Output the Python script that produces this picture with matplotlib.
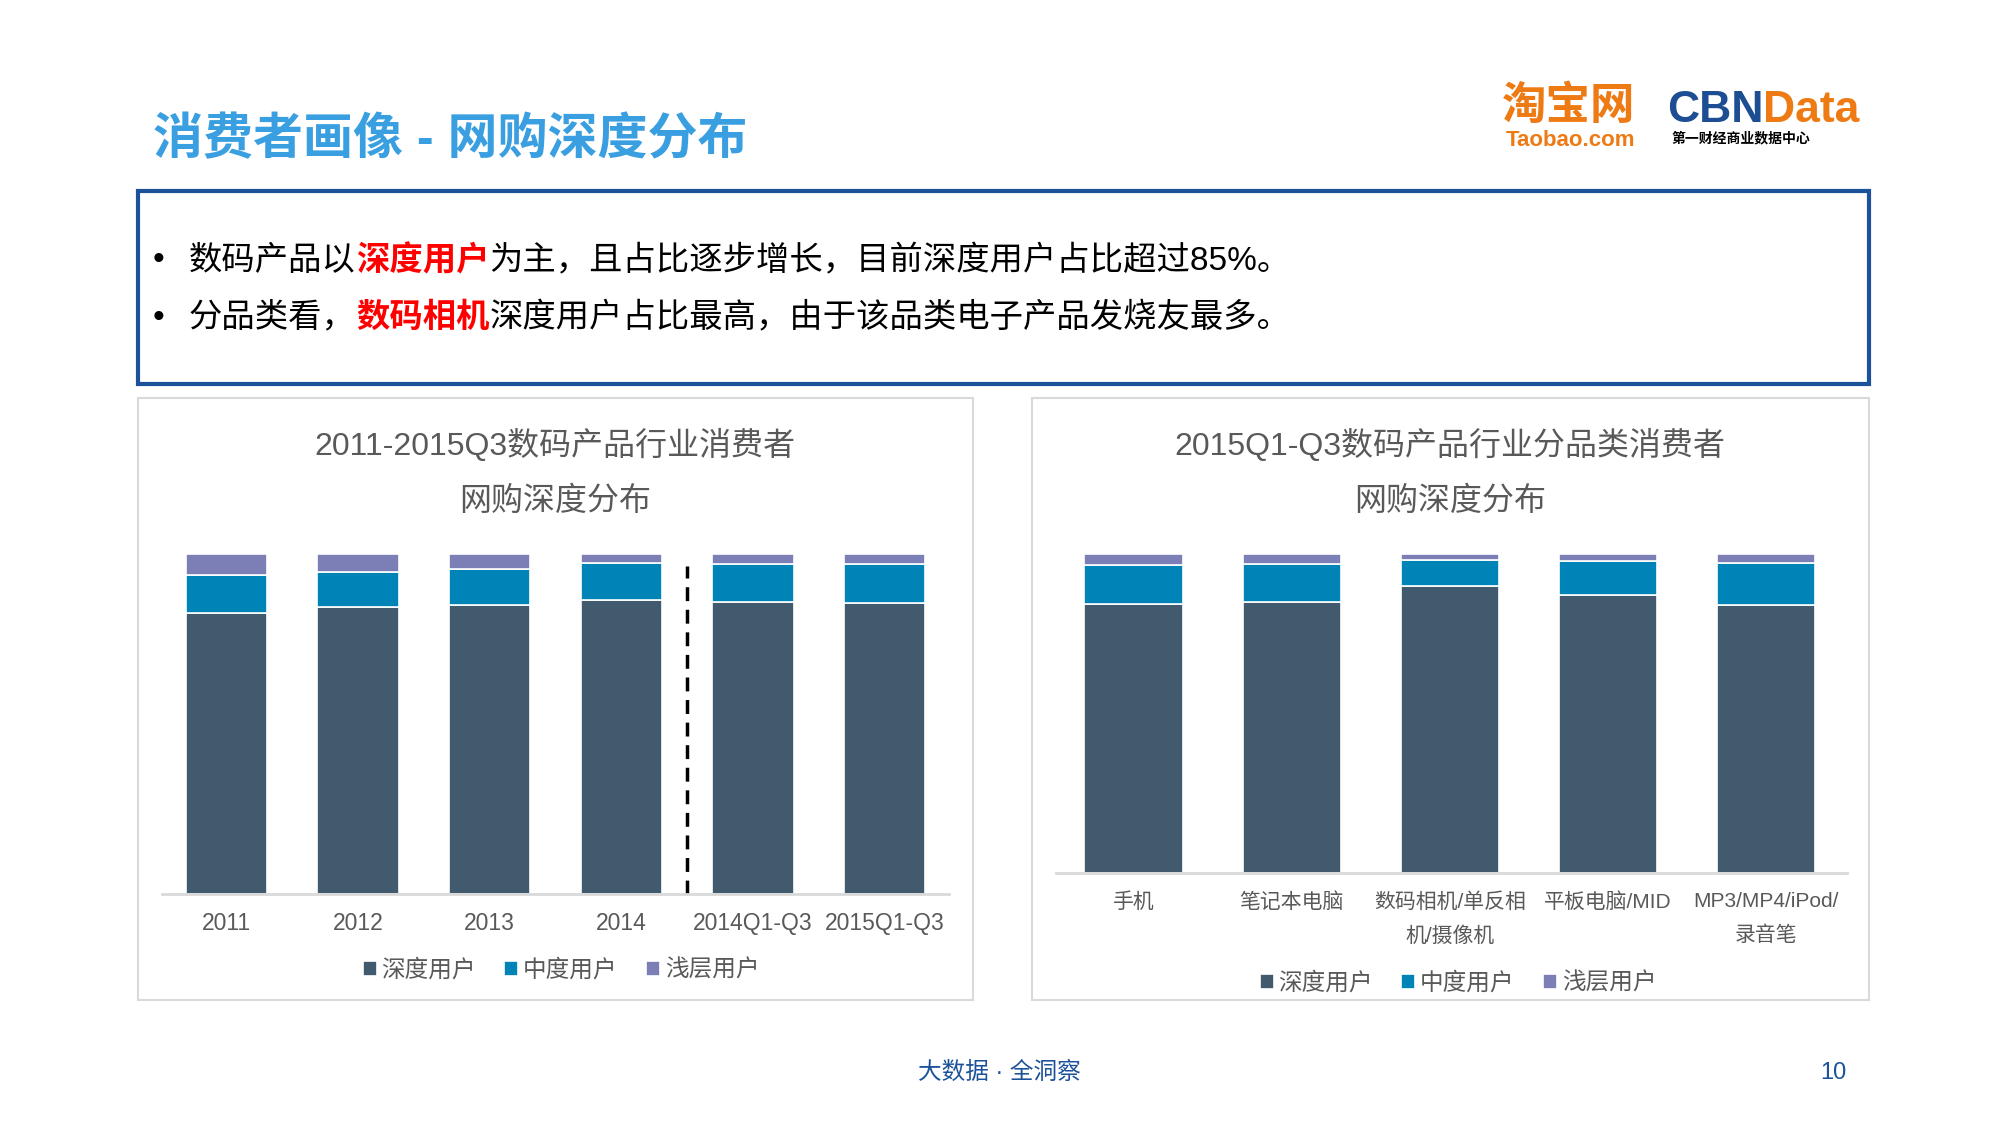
import matplotlib
matplotlib.use("Agg")
from matplotlib import pyplot as plt
from matplotlib.patches import Rectangle
import numpy as np

plt.rcParams['font.family'] = ['Liberation Sans', 'Noto Sans CJK SC', 'DejaVu Sans']

# data (percent of users)
years = ['2011', '2012', '2013', '2014', '2014Q1-Q3', '2015Q1-Q3']
deep_year = [82.7, 84.4, 85.0, 86.5, 85.9, 85.6]
mid_year = [11.1, 10.2, 10.6, 10.9, 11.2, 11.4]
light_year = [6.2, 5.4, 4.4, 2.6, 2.9, 3.0]

cats = ['手机', '笔记本电脑', '数码相机/单反相\n机/摄像机', '平板电脑/MID', 'MP3/MP4/iPod/\n录音笔']
deep_cat = [84.3, 85.0, 89.9, 87.1, 84.0]
mid_cat = [12.3, 11.8, 8.2, 10.7, 13.2]
light_cat = [3.4, 3.2, 1.9, 2.2, 2.8]

series_names = ['深度用户', '中度用户', '浅层用户']
colors = ['#415A6E', '#0084B8', '#7B7FB5']
gray = '#595959'

W, H = 2000, 1125
fig = plt.figure(figsize=(20, 11.25), dpi=100)

def fx(x): return x / W
def fy(y): return 1 - y / H

# page title + logos
fig.text(fx(153), fy(140), '消费者画像 - 网购深度分布', fontsize=36, fontweight='bold',
         color='#3A9FE0', va='center', ha='left')
fig.text(fx(1569), fy(107), '淘宝网', fontsize=32, fontweight='bold', color='#EE7A14',
         ha='center', va='center')
fig.text(fx(1571), fy(141), 'Taobao.com', fontsize=16, fontweight='bold', color='#EE7A14',
         ha='center', va='center')
t = fig.text(fx(1667), fy(110), 'CBN', fontsize=32, fontweight='bold', color='#1D4E93',
             ha='left', va='center')
fig.canvas.draw()
r = fig.canvas.get_renderer()
bb = t.get_window_extent(r)
fig.text(bb.x1 / W, fy(110), 'Data', fontsize=32, fontweight='bold', color='#EE7A14',
         ha='left', va='center')
fig.text(fx(1671), fy(138), '第一财经商业数据中心', fontsize=10, fontweight='bold', color='black',
         ha='left', va='center')

# summary box
fig.patches.append(Rectangle((fx(138), fy(384)), fx(1869 - 138), (384 - 191) / H,
                             transform=fig.transFigure, fill=False, edgecolor='#1B5299', lw=3))

def draw_runs(x, y, runs, size=24):
    for txt, col, bold in runs:
        tt = fig.text(fx(x), fy(y), txt, fontsize=size, color=col,
                      fontweight='bold' if bold else 'normal', ha='left', va='center')
        x = tt.get_window_extent(r).x1
    return x

for yy, runs in [(261, [('数码产品以', 'black', False), ('深度用户', '#FF0000', True),
                        ('为主，且占比逐步增长，目前深度用户占比超过85%。', 'black', False)]),
                 (318, [('分品类看，', 'black', False), ('数码相机', '#FF0000', True),
                        ('深度用户占比最高，由于该品类电子产品发烧友最多。', 'black', False)])]:
    fig.text(fx(159), fy(yy), '•', fontsize=24, color='black', ha='center', va='center')
    draw_runs(189, yy, runs)

# chart panels
for x0, x1 in [(138, 973), (1032, 1869)]:
    fig.patches.append(Rectangle((fx(x0), fy(1000)), fx(x1 - x0), (1000 - 398) / H,
                                 transform=fig.transFigure, fill=False, edgecolor='#D9D9D9', lw=1.5))

fig.text(fx(555), fy(445), '2011-2015Q3数码产品行业消费者', fontsize=23, color=gray, ha='center', va='center')
fig.text(fx(555), fy(502), '网购深度分布', fontsize=23, color=gray, ha='center', va='center')
fig.text(fx(1450), fy(445), '2015Q1-Q3数码产品行业分品类消费者', fontsize=23, color=gray, ha='center', va='center')
fig.text(fx(1450), fy(502), '网购深度分布', fontsize=23, color=gray, ha='center', va='center')

def stacked(ax, labels, deep, mid, light, width):
    x = np.arange(len(labels))
    bottom = np.zeros(len(labels))
    handles = []
    for vals, c, name in zip([deep, mid, light], colors, series_names):
        b = ax.bar(x, vals, width, bottom=bottom, color=c, edgecolor='white', linewidth=1.2, label=name)
        bottom += np.array(vals)
        handles.append(b)
    ax.set_ylim(0, 100)
    ax.set_yticks([])
    for s in ['left', 'right', 'top']:
        ax.spines[s].set_visible(False)
    ax.spines['bottom'].set_color('#D9D9D9')
    ax.spines['bottom'].set_linewidth(2)
    ax.set_xticks(x)
    return handles

# left chart
ax1 = fig.add_axes([fx(162), fy(894), fx(949 - 162), (894 - 554) / H])
h1 = stacked(ax1, years, deep_year, mid_year, light_year, 0.62)
ax1.set_xlim(-0.49, 5.49)
ax1.set_xticklabels(years, fontsize=16.5, color=gray)
ax1.tick_params(axis='x', length=0, pad=13)
ax1.plot([3.5, 3.5], [0, 96.6], color='black', lw=2.5, ls=(0, (4, 2.5)))
ax1.legend(handles=h1, loc='center', bbox_to_anchor=(fx(561), fy(970)), bbox_transform=fig.transFigure,
           ncol=3, frameon=False, fontsize=17, handlelength=0.6, handleheight=0.6,
           handletextpad=0.2, columnspacing=1.2, labelcolor=gray)

# right chart
ax2 = fig.add_axes([fx(1056), fy(873), fx(1847 - 1056), (873 - 554) / H])
h2 = stacked(ax2, cats, deep_cat, mid_cat, light_cat, 0.62)
ax2.set_xlim(-0.49, 4.51)
ax2.set_xticklabels(cats, fontsize=15, color=gray, linespacing=1.9)
ax2.tick_params(axis='x', length=0, pad=14)
ax2.legend(handles=h2, loc='center', bbox_to_anchor=(fx(1458), fy(983)), bbox_transform=fig.transFigure,
           ncol=3, frameon=False, fontsize=17, handlelength=0.6, handleheight=0.6,
           handletextpad=0.2, columnspacing=1.2, labelcolor=gray)

# footer
fig.text(fx(999), fy(1073), '大数据 · 全洞察', fontsize=17, color='#1B5299', ha='center', va='center')
fig.text(fx(1833), fy(1073), '10', fontsize=17, color='#1B5299', ha='center', va='center')

fig.savefig('out.png', dpi=100)
